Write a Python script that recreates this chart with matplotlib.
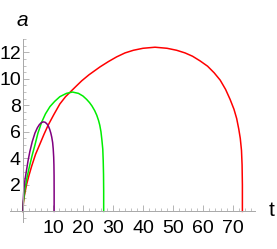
import matplotlib
matplotlib.use('Agg')
from matplotlib import pyplot as plt
from matplotlib.ticker import MultipleLocator

# 红色曲线
t_red = [0, 0.2, 0.5, 1.2, 2.0, 2.9, 4.2, 5.7, 7.0, 8.4, 10.3, 12.3, 14.2, 16.2,
         18.0, 19.6, 22.0, 25.7, 28.5, 31.2, 34.0, 36.8, 40.0, 44.0, 48.0, 51.2,
         54.0, 56.5, 59.0, 61.5, 63.7, 65.7, 67.5, 69.0, 70.3, 71.2, 71.9, 72.4,
         72.8, 73.0, 73.1, 73.1]
a_red = [0, 0.7, 1.2, 2.0, 2.7, 3.4, 4.3, 5.1, 5.8, 6.5, 7.3, 8.1, 8.65, 9.1,
         9.5, 9.85, 10.3, 10.9, 11.3, 11.65, 11.95, 12.15, 12.3, 12.38, 12.3, 12.15,
         11.95, 11.7, 11.35, 10.95, 10.45, 9.9, 9.2, 8.45, 7.7, 7.0, 6.2, 5.5,
         4.6, 3.5, 2.0, 0]

# 绿色曲线
t_green = [0, 0.1, 0.2, 0.7, 1.4, 2.3, 3.1, 4.0, 5.0, 6.2, 7.5, 9.0, 10.6, 12.3,
           14.5, 16.5, 18.5, 20.0, 21.2, 22.2, 23.0, 23.9, 24.6, 25.2, 25.6, 26.0,
           26.3, 26.6, 26.75, 26.85, 26.9, 26.9]
a_green = [0, 0.55, 0.8, 1.7, 2.6, 3.5, 4.25, 5.0, 5.9, 6.7, 7.35, 7.9, 8.3, 8.65,
           8.9, 9.0, 8.9, 8.7, 8.45, 8.2, 7.95, 7.6, 7.25, 6.85, 6.5, 6.0,
           5.4, 4.7, 3.8, 2.8, 1.5, 0]

# 紫色曲线
t_purple = [0, 0.05, 0.1, 0.3, 0.7, 1.2, 1.7, 2.3, 3.1, 4.0, 4.8, 5.5, 6.2, 6.8,
            7.4, 8.0, 8.5, 8.9, 9.3, 9.6, 9.9, 10.1, 10.25, 10.33, 10.38, 10.4, 10.4]
a_purple = [0, 0.5, 0.8, 1.6, 2.4, 3.1, 3.8, 4.5, 5.25, 5.9, 6.3, 6.55, 6.7, 6.75,
            6.72, 6.6, 6.42, 6.2, 5.9, 5.6, 5.2, 4.7, 4.1, 3.5, 2.7, 1.5, 0]

x_ticks = [10, 20, 30, 40, 50, 60, 70]
y_ticks = [2, 4, 6, 8, 10, 12]

plt.rcParams['font.family'] = ['Liberation Sans Narrow', 'Liberation Sans', 'DejaVu Sans']
axis_grey = '#a8a8a8'

W, H = 277, 249
fig = plt.figure(figsize=(W / 100, H / 100), dpi=100)
ax = fig.add_axes([10 / W, 27 / H, 245 / W, 183 / H])

ax.plot(t_red, a_red, color='#ff0000', lw=1.1)
ax.plot(t_green, a_green, color='#00ee00', lw=1.1)
ax.plot(t_purple, a_purple, color='#800080', lw=1.1)

ax.set_xlim(-4.3, 77.3)
ax.set_ylim(-0.8, 13.0)

for s in ['top', 'right']:
    ax.spines[s].set_visible(False)
ax.spines['left'].set_position(('data', 0))
ax.spines['bottom'].set_position(('data', 0))
for s in ['left', 'bottom']:
    ax.spines[s].set_color(axis_grey)
    ax.spines[s].set_linewidth(0.7)

ax.set_xticks(x_ticks)
ax.set_yticks(y_ticks)
ax.xaxis.set_minor_locator(MultipleLocator(2))
ax.yaxis.set_minor_locator(MultipleLocator(0.5))
ax.tick_params(which='both', direction='in', color=axis_grey)
ax.tick_params(which='major', length=4, width=0.6, labelsize=14)
ax.tick_params(which='minor', length=2.2, width=0.5)
ax.tick_params(axis='x', pad=6)
ax.tick_params(axis='y', pad=1.5)

fig.text(22.5 / W, 1 - 20.5 / H, 'a', fontsize=15, style='italic',
         family=['Liberation Sans', 'DejaVu Sans'], ha='center', va='center')
fig.text(272 / W, 1 - 210 / H, 't', fontsize=15,
         family=['Liberation Sans', 'DejaVu Sans'], ha='center', va='center')

plt.savefig('out.png', dpi=100)
